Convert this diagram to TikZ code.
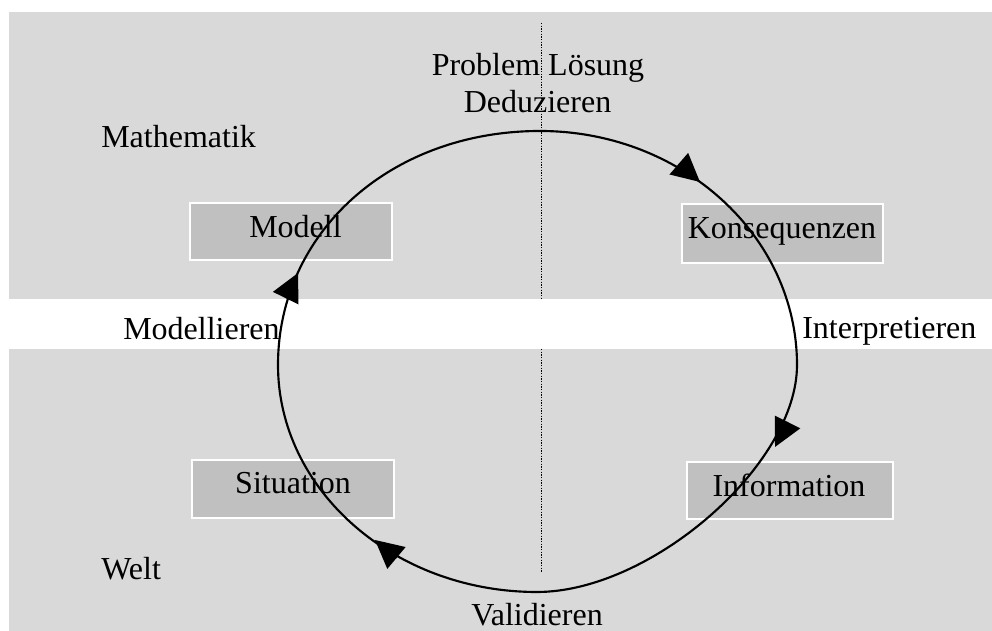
\documentclass[tikz,border=0pt]{standalone}
\usepackage{fontspec}
\setmainfont{Liberation Serif}
\usetikzlibrary{arrows.meta}
\definecolor{panel}{RGB}{217,217,217}
\definecolor{boxgray}{RGB}{192,192,192}
\tikzset{
  panelbox/.style={fill=panel, draw=none},
  stepbox/.style={draw=white, fill=boxgray, line width=1.8pt, inner sep=0pt},
  lbl/.style={font=\fontsize{24}{28}\selectfont, inner sep=0pt, anchor=base},
  lbll/.style={lbl, anchor=base west},
  axis/.style={line width=0.6pt, dash pattern=on 1pt off 1pt},
  loop/.style={line width=1.6pt},
  arr/.style={line width=1.6pt, -{Triangle[length=21pt,width=21pt]}}
}
\begin{document}
\begin{tikzpicture}[x=0.75pt,y=0.75pt]
\useasboundingbox (0,0) rectangle (992,631);
\fill[white] (0,0) rectangle (992,631);
% top panel
\fill[panelbox] (9,332) rectangle (992,619);
\draw[axis] (541,608) -- (541,332);
% labels in the white band
\node[lbll] (modellieren) at (123,291) {Modellieren};
\node[lbll] (interpretieren) at (802,292) {Interpretieren};
% bottom panel
\fill[panelbox] (9,0) rectangle (992,282);
\draw[axis] (541,282) -- (541,58);
% boxes
\node[stepbox, minimum width=151.5pt, minimum height=42.75pt] (modellbox) at (291,399.5) {};
\node[stepbox, minimum width=150.75pt, minimum height=44.25pt] (konsbox) at (782.5,397.5) {};
\node[stepbox, minimum width=151.5pt, minimum height=43.5pt] (sitbox) at (293,142) {};
\node[stepbox, minimum width=154.5pt, minimum height=42.75pt] (infobox) at (790,140.5) {};
% texts
\node[lbl] (problem) at (538,555) {Problem Lösung};
\node[lbl] (deduzieren) at (537.5,518) {Deduzieren};
\node[lbll] (mathematik) at (101,483) {Mathematik};
\node[lbl] (modell) at (295.5,393) {Modell};
\node[lbl] (kons) at (782,392) {Konsequenzen};
\node[lbl] (situation) at (293,137) {Situation};
\node[lbl] (information) at (789,134) {Information};
\node[lbll] (welt) at (101,51) {Welt};
\node[lbl] (validieren) at (537,5.5) {Validieren};
% cycle
\coordinate (top) at (540,500);
\coordinate (right) at (797,266);
\coordinate (bottom) at (537,39);
\coordinate (left) at (278,266);
\draw[loop] (top) .. controls (682,500) and (797,395) .. (right)
  .. controls (797,166) and (651,39) .. (bottom)
  .. controls (394,39) and (278,141) .. (left)
  .. controls (278,399) and (391,500) .. (top) -- cycle;
% arrowheads
\coordinate (b1) at (678.8,467.3); \coordinate (t1) at (700,449);
\coordinate (b2) at (285.7,332.9); \coordinate (t2) at (298,358);
\coordinate (b3) at (787.5,209);   \coordinate (t3) at (775,184);
\coordinate (b4) at (396.5,73);    \coordinate (t4) at (375,91);
\draw[arr] (b1) -- (t1);
\draw[arr] (b2) -- (t2);
\draw[arr] (b3) -- (t3);
\draw[arr] (b4) -- (t4);
\end{tikzpicture}
\end{document}
